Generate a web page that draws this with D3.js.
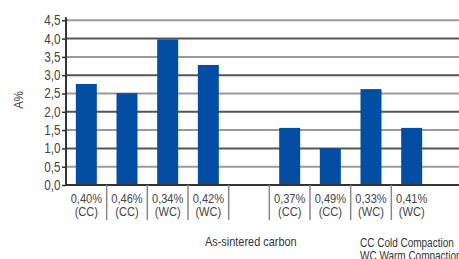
<!DOCTYPE html>
<html><head><meta charset="utf-8">
<script src="https://cdn.jsdelivr.net/npm/d3@7"></script>
<style>
html,body{margin:0;padding:0;background:#fff;overflow:hidden;}
text{font-family:"Liberation Sans",Arial,sans-serif;}
</style></head>
<body><svg id="c" width="459" height="259"></svg>
<script>
const categories = ["c1","c2","c3","c4","gap","c5","c6","c7","c8"];
const carbonLabels = ["0,40%","0,46%","0,34%","0,42%","","0,37%","0,49%","0,33%","0,41%"];
const compactionLabels = ["(CC)","(CC)","(WC)","(WC)","","(CC)","(CC)","(WC)","(WC)"];
const values = [2.76, 2.51, 3.98, 3.28, null, 1.56, 1.00, 2.62, 1.56];
const yTicks = [0,0.5,1,1.5,2,2.5,3,3.5,4,4.5];
const yAxisTitle = "A%";
const xAxisTitle = "As-sintered carbon";
const legendLines = ["CC Cold Compaction","WC Warm Compaction"];

(function(){
const svg = d3.select("#c");
const mLeft = 66, mRight = 432, mTop = 20.3, mBottom = 185;
const sx = 0.84; // narrow font emulation
const x = d3.scaleBand().domain(categories).range([mLeft, mRight]).paddingInner(0).paddingOuter(0);
const y = d3.scaleLinear().domain([0,4.5]).range([mBottom, mTop]);
const fmt = v => d3.format(".1f")(v).replace(".", ",");

// gridlines
svg.append("g").selectAll("line").data(yTicks.filter(t=>t>0)).join("line")
  .attr("x1", mLeft).attr("x2", 459)
  .attr("y1", d=>y(d)).attr("y2", d=>y(d))
  .attr("stroke", d => Number.isInteger(d) ? "#555" : "#9a9a9a")
  .attr("stroke-width", 2);

// bars
const bw = 21;
svg.append("g").selectAll("rect").data(categories.map((c,i)=>({c,v:values[i]})).filter(d=>d.v!=null)).join("rect")
  .attr("x", d => x(d.c) + (x.bandwidth()-bw)/2)
  .attr("y", d => y(d.v))
  .attr("width", bw)
  .attr("height", d => mBottom - y(d.v))
  .attr("fill", "#034ea2");

// y axis
const yAxis = d3.axisLeft(y).tickValues(yTicks).tickFormat(fmt).tickSize(4).tickPadding(0);
const ya = svg.append("g").attr("transform", `translate(${mLeft},0)`).call(yAxis);
ya.select(".domain").attr("stroke","#333").attr("stroke-width",2).attr("d", `M0,${mTop-3}V${mBottom}`);
ya.selectAll(".tick line").attr("stroke","#333").attr("stroke-width",1.5);
ya.selectAll(".tick text").attr("fill","#444").attr("font-size","14px").attr("x", 0)
  .attr("font-family","'Liberation Sans',Arial,sans-serif")
  .attr("transform", `translate(-5.5,0) scale(${sx},1)`);

// x baseline
svg.append("line").attr("x1", mLeft-1).attr("x2", 459).attr("y1", mBottom).attr("y2", mBottom)
  .attr("stroke","#333").attr("stroke-width",2);

// category separators
svg.append("g").selectAll("line").data(categories.slice(1)).join("line")
  .attr("x1", d=>x(d)).attr("x2", d=>x(d))
  .attr("y1", mBottom).attr("y2", 220)
  .attr("stroke","#888").attr("stroke-width",1.5);

// category labels
const cl = svg.append("g").selectAll("g").data(categories).join("g")
  .attr("transform", d => `translate(${x(d)+x.bandwidth()/2},0) scale(${sx},1)`);
cl.append("text").attr("y", 203).attr("text-anchor","middle").attr("font-size","13.2px").attr("fill","#444")
  .text((d,i)=>carbonLabels[i]);
cl.append("text").attr("y", 216.5).attr("text-anchor","middle").attr("font-size","13.2px").attr("fill","#444")
  .text((d,i)=>compactionLabels[i]);

// axis titles
svg.append("text").attr("transform",`translate(23,100) rotate(-90) scale(${sx},1)`).attr("text-anchor","middle")
  .attr("font-size","13.5px").attr("fill","#444").text(yAxisTitle);
svg.append("text").attr("transform",`translate(205,246) scale(${sx},1)`).attr("font-size","13px").attr("fill","#333").text(xAxisTitle);
svg.append("g").selectAll("text").data(legendLines).join("text")
  .attr("transform", (d,i)=>`translate(360,${247+i*13}) scale(0.8,1)`).attr("font-size","12.5px").attr("fill","#333").text(d=>d);
})();
</script></body></html>
